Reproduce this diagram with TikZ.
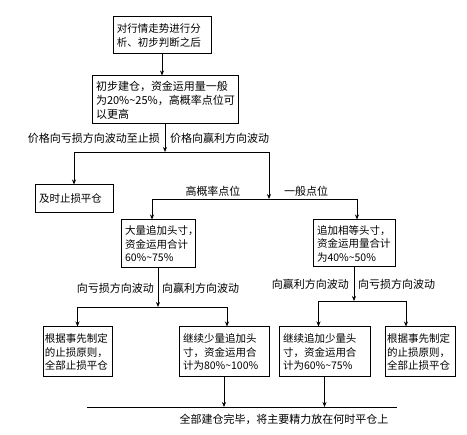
\documentclass[tikz,border=0pt]{standalone}
\usepackage{fontspec}
\setmainfont{Noto Sans CJK SC}
\usetikzlibrary{arrows.meta}
\tikzset{
  box/.style={draw, line width=1pt, align=left, inner xsep=4pt, inner ysep=2pt,
    font=\fontsize{10.5}{13.5}\selectfont},
  lbl/.style={inner sep=1pt, font=\fontsize{11}{13}\selectfont},
  flow/.style={line width=0.75pt},
  arr/.style={flow, -{Stealth[length=5pt,width=4pt]}}
}

\begin{document}
\begin{tikzpicture}[x=1pt, y=-1pt]
\useasboundingbox (0,0) rectangle (467,435);
\node[box, text width=90pt, minimum height=37pt] (analyse) at (162,35.5) {对行情走势进行分\\析、初步判断之后};
\node[box, text width=138pt, minimum height=48pt, font=\fontsize{11}{14}\selectfont] (build) at (165,100) {初步建仓，资金运用量一般\\为20\%\textasciitilde25\%，高概率点位可\\以更高};
\node[box, text width=70pt, minimum height=28pt] (stop) at (74,199) {及时止损平仓};
\node[box, text width=66pt, minimum height=48pt] (big) at (158,244) {大量追加头寸，\\资金运用合计\\60\%\textasciitilde75\%};
\node[box, text width=74pt, minimum height=47pt] (equal) at (354,243.5) {追加相等头寸，\\资金运用量合计\\为40\%\textasciitilde50\%};
\node[box, text width=65pt, inner xsep=2pt, minimum height=50pt] (cutL) at (77.5,352) {根据事先制定\\的止损原则，\\全部止损平仓};
\node[box, text width=82pt, minimum height=50pt] (addL) at (224,352) {继续少量追加头\\寸，资金运用合\\计为80\%\textasciitilde100\%};
\node[box, text width=83pt, minimum height=50pt] (addR) at (324.5,352) {继续追加少量头\\寸，资金运用合\\计为60\%\textasciitilde75\%};
\node[box, text width=66pt, inner xsep=2pt, minimum height=50pt] (cutR) at (420,352) {根据事先制定\\的止损原则，\\全部止损平仓};

\coordinate (split1) at (165,152);
\coordinate (split2) at (269,199);
\coordinate (split3) at (158,307);
\coordinate (split4) at (354,301);
\coordinate (endL) at (87,407);
\coordinate (endR) at (397,407);

\draw[arr] (analyse) -- (analyse.south |- build.north);
\draw[arr] (build) -- (split1);
\draw[arr] (split1) -| (stop);
\draw[arr] (split1) -| (split2);
\draw[arr] (split2) -| ([xshift=-6pt]big.north);
\draw[arr] (split2) -| ([xshift=3pt]equal.north);
\draw[arr] (big) -- (split3);
\draw[arr] (split3) -| (cutL);
\draw[arr] (split3) -| ([xshift=3pt]addL.north);
\draw[arr] (equal) -- (split4);
\draw[arr] (split4) -| ([xshift=-6pt]addR.north);
\draw[arr] (split4) -| ([xshift=-14pt]cutR.north);
\draw[flow] (endL) -- (endR);
\draw[arr] (addL) -- (addL.south |- endL);
\draw[arr] (addR) -- (addR.south |- endL);

\node[lbl, anchor=east] (lossA) at (161,138) {价格向亏损方向波动至止损};
\node[lbl, anchor=west] (gainA) at (169,138) {价格向赢利方向波动};
\node[lbl] (high) at (213,191) {高概率点位};
\node[lbl] (normal) at (306,191) {一般点位};
\node[lbl, anchor=east] (lossB) at (155,288) {向亏损方向波动};
\node[lbl, anchor=west] (gainB) at (161,288) {向赢利方向波动};
\node[lbl, anchor=east] (gainC) at (350,284) {向赢利方向波动};
\node[lbl, anchor=west] (lossC) at (357,284) {向亏损方向波动};
\node[lbl] (done) at (284,419) {全部建仓完毕，将主要精力放在何时平仓上};
\end{tikzpicture}
\end{document}
